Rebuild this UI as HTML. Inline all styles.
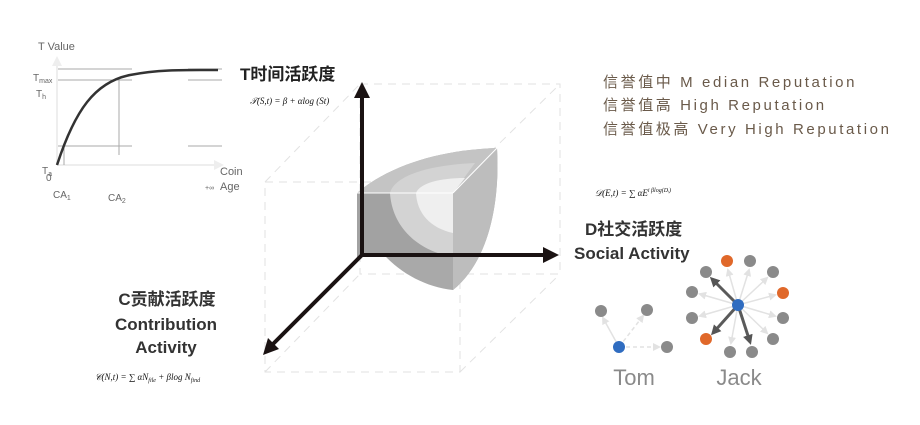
<!DOCTYPE html>
<html><head><meta charset="utf-8"><style>
body{margin:0;background:#fff;width:920px;height:425px;overflow:hidden}
svg{display:block}
text{font-family:"Liberation Sans","Noto Sans CJK SC",sans-serif}
.m{font-family:"Liberation Serif","Noto Serif CJK SC",serif;font-style:italic;font-size:9px;fill:#111}
</style></head><body>
<svg width="920" height="425" viewBox="0 0 920 425" xmlns="http://www.w3.org/2000/svg">
<defs>
<marker id="ah" markerWidth="8" markerHeight="8" refX="6" refY="4" orient="auto" markerUnits="userSpaceOnUse"><path d="M0,0 L8,4 L0,8 z" fill="#e2e2e2"/></marker>
<marker id="ad" markerWidth="10" markerHeight="10" refX="7" refY="5" orient="auto" markerUnits="userSpaceOnUse"><path d="M0,0 L10,5 L0,10 z" fill="#555"/></marker>
</defs>
<text x="38" y="50" font-size="11" fill="#666">T Value</text>
<line x1="57" y1="165" x2="57" y2="64" stroke="#eee" stroke-width="2"/>
<path d="M52,66 L57,56 L62,66z" fill="#eee"/>
<line x1="57" y1="165" x2="216" y2="165" stroke="#eee" stroke-width="2"/>
<path d="M214,160 L224,165 L214,170z" fill="#eee"/>
<g stroke="#aaa" stroke-width="1">
<line x1="58" y1="69" x2="132" y2="69"/><line x1="188" y1="69" x2="222" y2="69"/>
<line x1="58" y1="80" x2="132" y2="80"/><line x1="188" y1="80" x2="222" y2="80"/>
<line x1="58" y1="146" x2="132" y2="146"/><line x1="188" y1="146" x2="222" y2="146"/>
<line x1="64" y1="146" x2="64" y2="165"/><line x1="119" y1="80" x2="119" y2="155"/>
</g>
<path d="M57,165 C75,110 95,82 130,75 C160,69 190,70 218,70" fill="none" stroke="#333" stroke-width="2.5"/>
<text x="33" y="81" font-size="10" fill="#666">T<tspan font-size="7" dy="2">max</tspan></text>
<text x="36" y="97" font-size="10" fill="#666">T<tspan font-size="7" dy="2">h</tspan></text>
<text x="42" y="174" font-size="10" fill="#666">T<tspan font-size="7" dy="2">a</tspan></text>
<text x="46" y="181" font-size="10" fill="#666">0</text>
<text x="220" y="175" font-size="11" fill="#666">Coin</text>
<text x="205" y="190" font-size="7" fill="#666">+∞</text>
<text x="220" y="190" font-size="11" fill="#666">Age</text>
<text x="53" y="198" font-size="10" fill="#666">CA<tspan font-size="7" dy="2">1</tspan></text>
<text x="108" y="201" font-size="10" fill="#666">CA<tspan font-size="7" dy="2">2</tspan></text>
<g stroke="#e2e2e2" stroke-width="1" stroke-dasharray="8,6" fill="none">
<rect x="265" y="182" width="195" height="190"/>
<rect x="360" y="84" width="200" height="190"/>
<line x1="265" y1="182" x2="360" y2="84"/><line x1="460" y1="182" x2="560" y2="84"/>
<line x1="265" y1="372" x2="360" y2="274"/><line x1="460" y1="372" x2="560" y2="274"/>
</g>
<path d="M357,193 C390,165 440,150 497,148 C500,200 490,260 453,290 C405,285 360,245 357,193z" fill="#a9a9a9"/>
<path d="M357,193 L453,193 L497,148 C440,150 390,165 357,193z" fill="#c4c4c4"/>
<path d="M453,193 L497,148 C500,200 490,260 453,290z" fill="#bdbdbd"/>
<rect x="357" y="193" width="96" height="64" fill="#a2a2a2"/>
<path d="M390,193 C395,175 430,165 475,163 L453,193z M390,193 L453,193 L453,257 C415,250 392,225 390,193z" fill="#d3d3d3"/>
<path d="M416,193 C420,183 440,178 465,178 L453,193z M416,193 L453,193 L453,233 C430,228 417,213 416,193z" fill="#efefef"/>
<line x1="357" y1="193" x2="453" y2="193" stroke="#fff" stroke-width="1"/>
<line x1="453" y1="193" x2="497" y2="148" stroke="#fff" stroke-width="1"/>
<g stroke="#1a1212" stroke-width="4" fill="none">
<line x1="362" y1="256" x2="362" y2="96"/>
<line x1="362" y1="255" x2="545" y2="255"/>
<line x1="362" y1="255" x2="272" y2="345"/>
</g>
<path d="M354,98 L362,82 L370,98z" fill="#1a1212"/>
<path d="M543,247 L559,255 L543,263z" fill="#1a1212"/>
<path d="M263,355 L268,338 L279,349z" fill="#1a1212"/>
<text x="240" y="80" font-size="17" font-weight="bold" fill="#222">T时间活跃度</text>
<text x="250" y="104" class="m">𝒯(S,t) = β + αlog (St)</text>
<text x="595" y="196" class="m">𝒟(E,t) = ∑ αE<tspan font-size="6" dy="-4">i βlog(Dᵢ)</tspan></text>
<text x="585" y="235" font-size="17" font-weight="bold" fill="#333">D社交活跃度</text>
<text x="574" y="259" font-size="17" font-weight="bold" fill="#333">Social Activity</text>
<text x="167" y="305" font-size="17" font-weight="bold" fill="#333" text-anchor="middle">C贡献活跃度</text>
<text x="166" y="330" font-size="17" font-weight="bold" fill="#333" text-anchor="middle">Contribution</text>
<text x="166" y="353" font-size="17" font-weight="bold" fill="#333" text-anchor="middle">Activity</text>
<text x="95" y="380" class="m">𝒞(N,t) = ∑ αN<tspan font-size="6" dy="2">file</tspan><tspan dy="-2"> + βlog N</tspan><tspan font-size="6" dy="2">find</tspan></text>
<g font-size="15" fill="#6a5a4a" font-family="'Liberation Serif','Noto Serif CJK SC',serif" letter-spacing="2.6">
<text x="603" y="87">信誉值中 M edian Reputation</text>
<text x="603" y="110">信誉值高 High Reputation</text>
<text x="603" y="134">信誉值极高 Very High Reputation</text>
</g>
<g stroke="#e2e2e2" stroke-width="1.5" marker-end="url(#ah)">
<line x1="619" y1="347" x2="603" y2="318"/><line x1="619" y1="347" x2="643" y2="316" stroke-dasharray="4,3"/><line x1="619" y1="347" x2="659" y2="347" stroke-dasharray="4,3"/>
<line x1="738" y1="305" x2="728" y2="270"/><line x1="738" y1="305" x2="749" y2="270"/><line x1="738" y1="305" x2="767" y2="278"/>
<line x1="738" y1="305" x2="700" y2="294"/><line x1="738" y1="305" x2="775" y2="295"/><line x1="738" y1="305" x2="700" y2="316"/>
<line x1="738" y1="305" x2="775" y2="316"/><line x1="738" y1="305" x2="731" y2="343"/><line x1="738" y1="305" x2="767" y2="333"/>
</g>
<g stroke="#5a5a5a" stroke-width="3" marker-end="url(#ad)">
<line x1="738" y1="305" x2="712" y2="279"/><line x1="738" y1="305" x2="713" y2="333"/><line x1="738" y1="305" x2="750" y2="342"/>
</g>
<g fill="#8a8a8a">
<circle cx="601" cy="311" r="6"/><circle cx="647" cy="310" r="6"/><circle cx="667" cy="347" r="6"/>
<circle cx="750" cy="261" r="6"/><circle cx="706" cy="272" r="6"/><circle cx="773" cy="272" r="6"/>
<circle cx="692" cy="292" r="6"/><circle cx="692" cy="318" r="6"/><circle cx="783" cy="318" r="6"/>
<circle cx="730" cy="352" r="6"/><circle cx="752" cy="352" r="6"/><circle cx="773" cy="339" r="6"/>
</g>
<g fill="#e0682a"><circle cx="727" cy="261" r="6"/><circle cx="783" cy="293" r="6"/><circle cx="706" cy="339" r="6"/></g>
<g fill="#2f6cc0"><circle cx="619" cy="347" r="6"/><circle cx="738" cy="305" r="6"/></g>
<text x="634" y="385" font-size="22" fill="#8a8a8a" text-anchor="middle">Tom</text>
<text x="739" y="385" font-size="22" fill="#8a8a8a" text-anchor="middle">Jack</text>
</svg>
</body></html>
